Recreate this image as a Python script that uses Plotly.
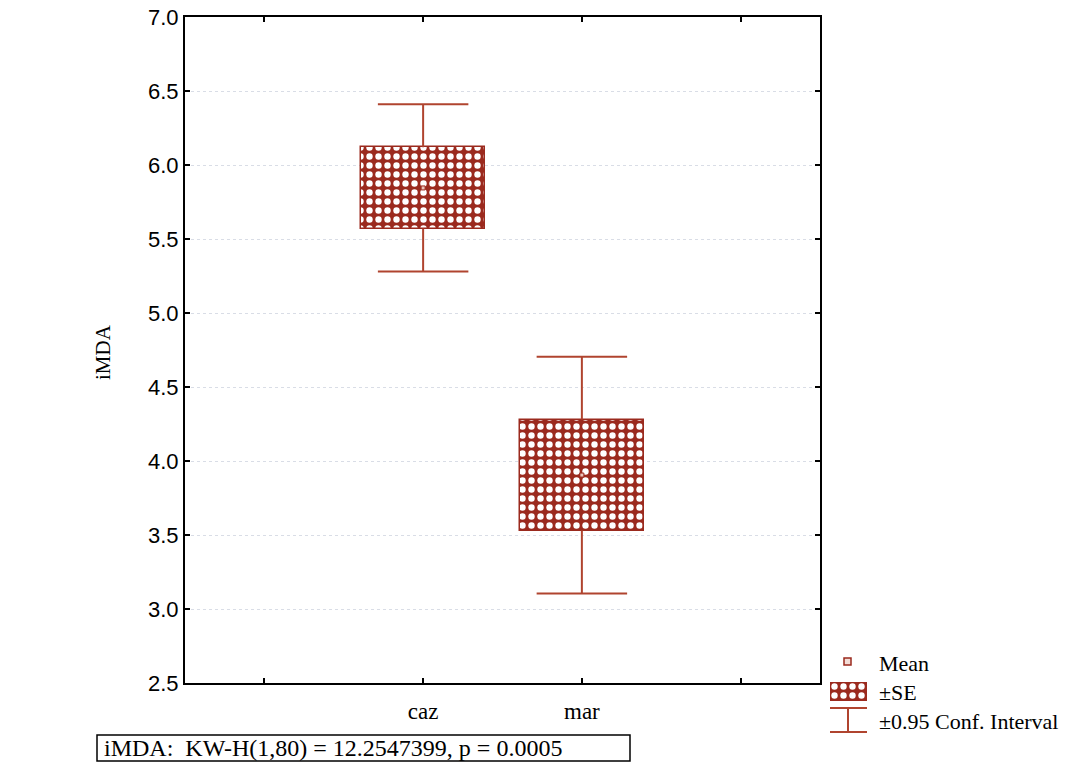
import plotly.graph_objects as go

# ---- data ----
categories = ["caz", "mar"]
cat_positions = [2, 3]          # slots on the 4-slot x axis
means = [5.845, 3.905]
se = [0.275, 0.375]
ci95 = [0.565, 0.80]
x_tickvals = [1, 2, 3, 4]
x_ticktext = ["", "caz", "mar", ""]
y_tickvals = [2.5, 3.0, 3.5, 4.0, 4.5, 5.0, 5.5, 6.0, 6.5, 7.0]
stat_text = "iMDA:  KW-H(1,80) = 12.2547399, p = 0.0005"

W, H = 1065, 764
BOX = "#9b2a1e"
LINE = "#b0442f"
SERIF = "Liberation Serif, Times New Roman, serif"
SANS = "Liberation Sans, Arial, sans-serif"

def px(x):
    return x / W

def py(y):
    return 1 - y / H

PATTERN = dict(shape=".", fgcolor="white", bgcolor=BOX, fgopacity=1,
               size=9, solidity=0.4)

fig = go.Figure()

# whiskers (CI) outside the SE box
for xc, m, s, c in zip(cat_positions, means, se, ci95):
    hw = 0.285
    xs = [xc, xc, None, xc - hw, xc + hw, None, xc, xc, None, xc - hw, xc + hw]
    ys = [m + s, m + c, None, m + c, m + c, None, m - s, m - c, None, m - c, m - c]
    fig.add_trace(go.Scatter(x=xs, y=ys, mode="lines", line=dict(color=LINE, width=2),
                             showlegend=False, hoverinfo="skip"))

# SE boxes
fig.add_trace(go.Bar(
    x=cat_positions, y=[2 * s for s in se], base=[m - s for m, s in zip(means, se)],
    width=0.78,
    marker=dict(color=BOX, line=dict(color=BOX, width=1.5), pattern=PATTERN),
    showlegend=False, hoverinfo="skip"))

# means
fig.add_trace(go.Scatter(x=cat_positions, y=means, mode="markers",
                         marker=dict(symbol="square", size=4, color="#e9c3ba",
                                     line=dict(color=BOX, width=1)),
                         showlegend=False, hoverinfo="skip"))

# legend swatch for ±SE (patterned)
fig.add_trace(go.Bar(x=[0], y=[1], width=1, xaxis="x2", yaxis="y2",
                     marker=dict(color=BOX, line=dict(color=BOX, width=1.5), pattern=PATTERN),
                     showlegend=False, hoverinfo="skip"))

fig.update_layout(
    width=W, height=H,
    margin=dict(l=0, r=0, t=0, b=0, autoexpand=False),
    paper_bgcolor="white", plot_bgcolor="white",
    bargap=0,
    xaxis=dict(domain=[px(185), px(820)], range=[0.5, 4.5], automargin=False,
               tickvals=x_tickvals, ticktext=x_ticktext, ticklabeloverflow="allow",
               ticks="inside", ticklen=5, tickwidth=1.5, tickcolor="black",
               showline=True, linecolor="black", linewidth=2, mirror="ticks",
               showgrid=False, zeroline=False, ticklabelstandoff=6,
               tickfont=dict(family=SERIF, size=23, color="black")),
    yaxis=dict(domain=[py(683), py(17)], range=[2.5, 7.0], automargin=False,
               tickvals=y_tickvals, tickformat=".1f", ticklabeloverflow="allow",
               ticks="inside", ticklen=5, tickwidth=1.5, tickcolor="black",
               showline=True, linecolor="black", linewidth=2, mirror="ticks",
               showgrid=True, gridcolor="#d9dde6", griddash="dot", gridwidth=1,
               zeroline=False,
               tickfont=dict(family=SANS, size=22, color="black")),
    xaxis2=dict(domain=[px(830), px(867)], range=[-0.5, 0.5], visible=False,
                anchor="y2", fixedrange=True, automargin=False),
    yaxis2=dict(domain=[py(701), py(682)], range=[0, 1], visible=False,
                anchor="x2", fixedrange=True, automargin=False),
    showlegend=False,
)

shapes = []
# stats box
shapes.append(dict(type="rect", xref="paper", yref="paper",
                   x0=px(97), x1=px(630), y0=py(761), y1=py(735),
                   line=dict(color="black", width=1.5), fillcolor="white", layer="below"))
# legend: mean square
shapes.append(dict(type="rect", xref="paper", yref="paper",
                   x0=px(844), x1=px(851), y0=py(665), y1=py(658),
                   line=dict(color=BOX, width=1.5), fillcolor="#f3ddd7"))
# legend: CI symbol
for (x0, y0, x1, y1) in [(830, 708, 867, 708), (848, 708, 848, 732), (830, 732, 867, 732)]:
    shapes.append(dict(type="line", xref="paper", yref="paper",
                       x0=px(x0), x1=px(x1), y0=py(y0), y1=py(y1),
                       line=dict(color=LINE, width=2)))
fig.update_layout(shapes=shapes)

ann = [
    dict(text=stat_text, xref="paper", yref="paper", x=px(102), y=py(748),
         xanchor="left", yanchor="middle", showarrow=False,
         font=dict(family=SERIF, size=24, color="black")),
    dict(text="iMDA", xref="paper", yref="paper", x=px(103), y=py(352),
         xanchor="center", yanchor="middle", textangle=-90, showarrow=False,
         font=dict(family=SERIF, size=21, color="black")),
    dict(text="Mean", xref="paper", yref="paper", x=px(877), y=py(663),
         xanchor="left", yanchor="middle", showarrow=False,
         font=dict(family=SERIF, size=22, color="black")),
    dict(text="±SE", xref="paper", yref="paper", x=px(877), y=py(692),
         xanchor="left", yanchor="middle", showarrow=False,
         font=dict(family=SERIF, size=22, color="black")),
    dict(text="±0.95 Conf. Interval", xref="paper", yref="paper", x=px(877), y=py(721),
         xanchor="left", yanchor="middle", showarrow=False,
         font=dict(family=SERIF, size=22, color="black")),
]
fig.update_layout(annotations=ann)

fig.write_html("out.html",
               config={"displayModeBar": False},
               post_script="document.body.style.margin='0px';"
                           "document.body.style.overflow='hidden';")
